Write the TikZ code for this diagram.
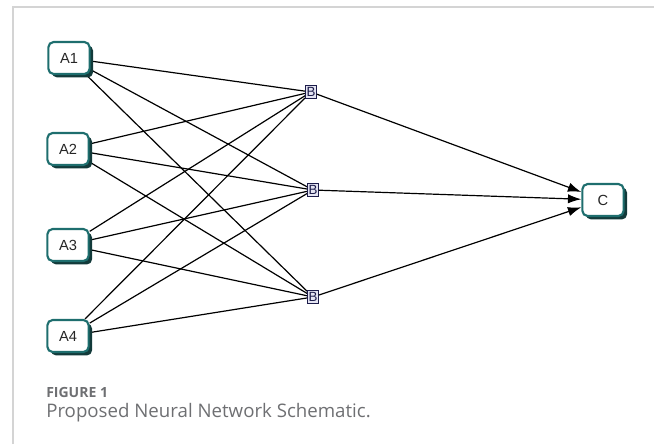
\documentclass[tikz,border=0pt]{standalone}
\usepackage{fontspec}
\setmainfont{Liberation Sans}
\newfontfamily\capfont{Open Sans}
\usepackage{xcolor}
\usetikzlibrary{arrows.meta,shadows,backgrounds}
\definecolor{teal}{HTML}{1E6E6E}
\definecolor{shade}{HTML}{123A3A}
\definecolor{navy}{HTML}{1C1C4A}
\definecolor{lilac}{HTML}{E4E4F2}
\definecolor{frame}{HTML}{D4D4D4}
\definecolor{muted}{HTML}{6E6F72}
\tikzset{
  unit/.style={draw=teal,fill=white,line width=1.6pt,rounded corners=4pt,minimum width=31pt,minimum height=24pt,inner sep=0pt,font=\fontsize{11}{13}\selectfont,text=black!85,drop shadow={shadow xshift=2.6pt,shadow yshift=-2.6pt,fill=shade,opacity=1}},
  hid/.style={draw=navy,fill=lilac,line width=0.9pt,minimum width=8pt,minimum height=9.5pt,inner sep=0pt,font=\fontsize{10}{11}\selectfont,text=navy},
  link/.style={line width=0.9pt,color=black},
  arrow/.style={-{Latex[length=10pt,width=7pt]},line width=0.9pt,color=black},
  caption/.style={text=muted,anchor=base west,inner sep=0pt},
}
\begin{document}
\begin{tikzpicture}[x=0.75pt,y=-0.75pt]
    \useasboundingbox (0,0) rectangle (654,444);
    \draw[frame,line width=0.8pt] (13,444) -- (13,7) -- (654,7);
    % inputs
    \node[unit] (a1) at (69,58) {A1};
    \node[unit] (a2) at (68,149) {A2};
    \node[unit] (a3) at (68,245) {A3};
    \node[unit] (a4) at (68,336) {A4};
    % hidden
    \node[hid] (b1) at (311,92) {B};
    \node[hid] (b2) at (313,190) {B};
    \node[hid] (b3) at (313,297) {B};
    % output
    \node[unit] (c) at (603,200) {C};
    \begin{scope}[on background layer]
      \foreach \a in {a1,a2,a3,a4}
        \foreach \b in {b1,b2,b3} \draw[link] (\a) -- (\b);
    \end{scope}
    \foreach \b in {b1,b2,b3} \draw[arrow] (\b) -- (c);
    \node[caption,font=\capfont\bfseries\fontsize{10.5}{12}\selectfont] (fig) at (46,397) {FIGURE 1};
    \node[caption,font=\capfont\fontsize{14}{16}\selectfont] (title) at (46,417) {Proposed Neural Network Schematic.};
  \end{tikzpicture}
\end{document}
